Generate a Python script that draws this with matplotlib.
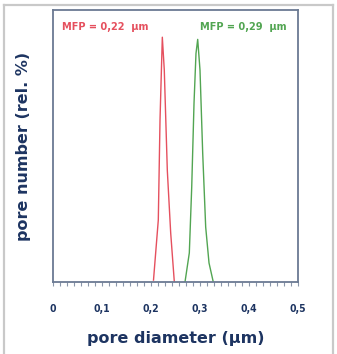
import matplotlib
matplotlib.use("Agg")
import matplotlib.pyplot as plt
from matplotlib.lines import Line2D
import numpy as np

# Data
red_x = [0.2051, 0.2149, 0.2184, 0.2231, 0.2271, 0.2333, 0.2402, 0.2476]
red_y = [0.7, 22.8, 59.6, 90.0, 78.0, 41.0, 18.0, 0.0]
green_x = [0.2694, 0.2782, 0.2831, 0.2878, 0.2918, 0.2953, 0.3000, 0.3055, 0.3116, 0.3184, 0.3271]
green_y = [0.0, 10.7, 34.9, 65.8, 84.0, 89.2, 77.9, 47.4, 20.2, 7.0, 0.0]
xticks = [0, 0.1, 0.2, 0.3, 0.4, 0.5]
xtick_labels = ["0", "0,1", "0,2", "0,3", "0,4", "0,5"]
red_label = "MFP = 0,22  µm"
green_label = "MFP = 0,29  µm"

W, H = 337, 354
fig = plt.figure(figsize=(W / 100, H / 100), dpi=100)
fig.patch.set_facecolor("white")

# outer light frame
for (xs, ys) in [([3.5, 3.5], [0, H - 4.5]), ([3.5, 332.5], [H - 4.5, H - 4.5]), ([332.5, 332.5], [0, H - 4.5])]:
    fig.add_artist(Line2D([x / W for x in xs], [y / H for y in ys], color="#c9c9c9", lw=1.6,
                          transform=fig.transFigure))

ax = fig.add_axes([53 / W, (H - 282) / H, 245 / W, 272 / H])
navy = "#1d3461"
spine_c = "#6b7a93"

ax.plot(red_x, red_y, color="#e5505e", lw=1.0)
ax.plot(green_x, green_y, color="#52a552", lw=1.0)

ax.set_xlim(0, 0.5)
ax.set_ylim(0, 100)
for s in ax.spines.values():
    s.set_color(spine_c)
    s.set_linewidth(1.3)

ax.set_xticks(xticks)
ax.set_xticklabels(xtick_labels, family="DejaVu Sans", fontstretch="condensed", fontsize=7.5,
                   color=navy, fontweight="bold")
ax.set_xticks(np.arange(0, 0.5001, 0.1 / 7), minor=True)
ax.tick_params(axis="x", which="both", direction="out", length=3, width=0.8, color="#8a96aa", pad=13)
ax.set_yticks([])

ax.text(0.018, 93.7, red_label, color="#e5505e", family="DejaVu Sans", fontstretch="condensed",
        fontsize=7.8, fontweight="bold", ha="left", va="center")
ax.text(0.300, 93.7, green_label, color="#52a552", family="DejaVu Sans", fontstretch="condensed",
        fontsize=7.8, fontweight="bold", ha="left", va="center")

ax.set_xlabel("pore diameter (µm)", fontsize=11.5, fontweight="bold", color=navy, labelpad=12)
ax.set_ylabel("pore number (rel. %)", fontsize=11.5, fontweight="bold", color=navy, labelpad=16)

fig.savefig("out.png", dpi=100)
